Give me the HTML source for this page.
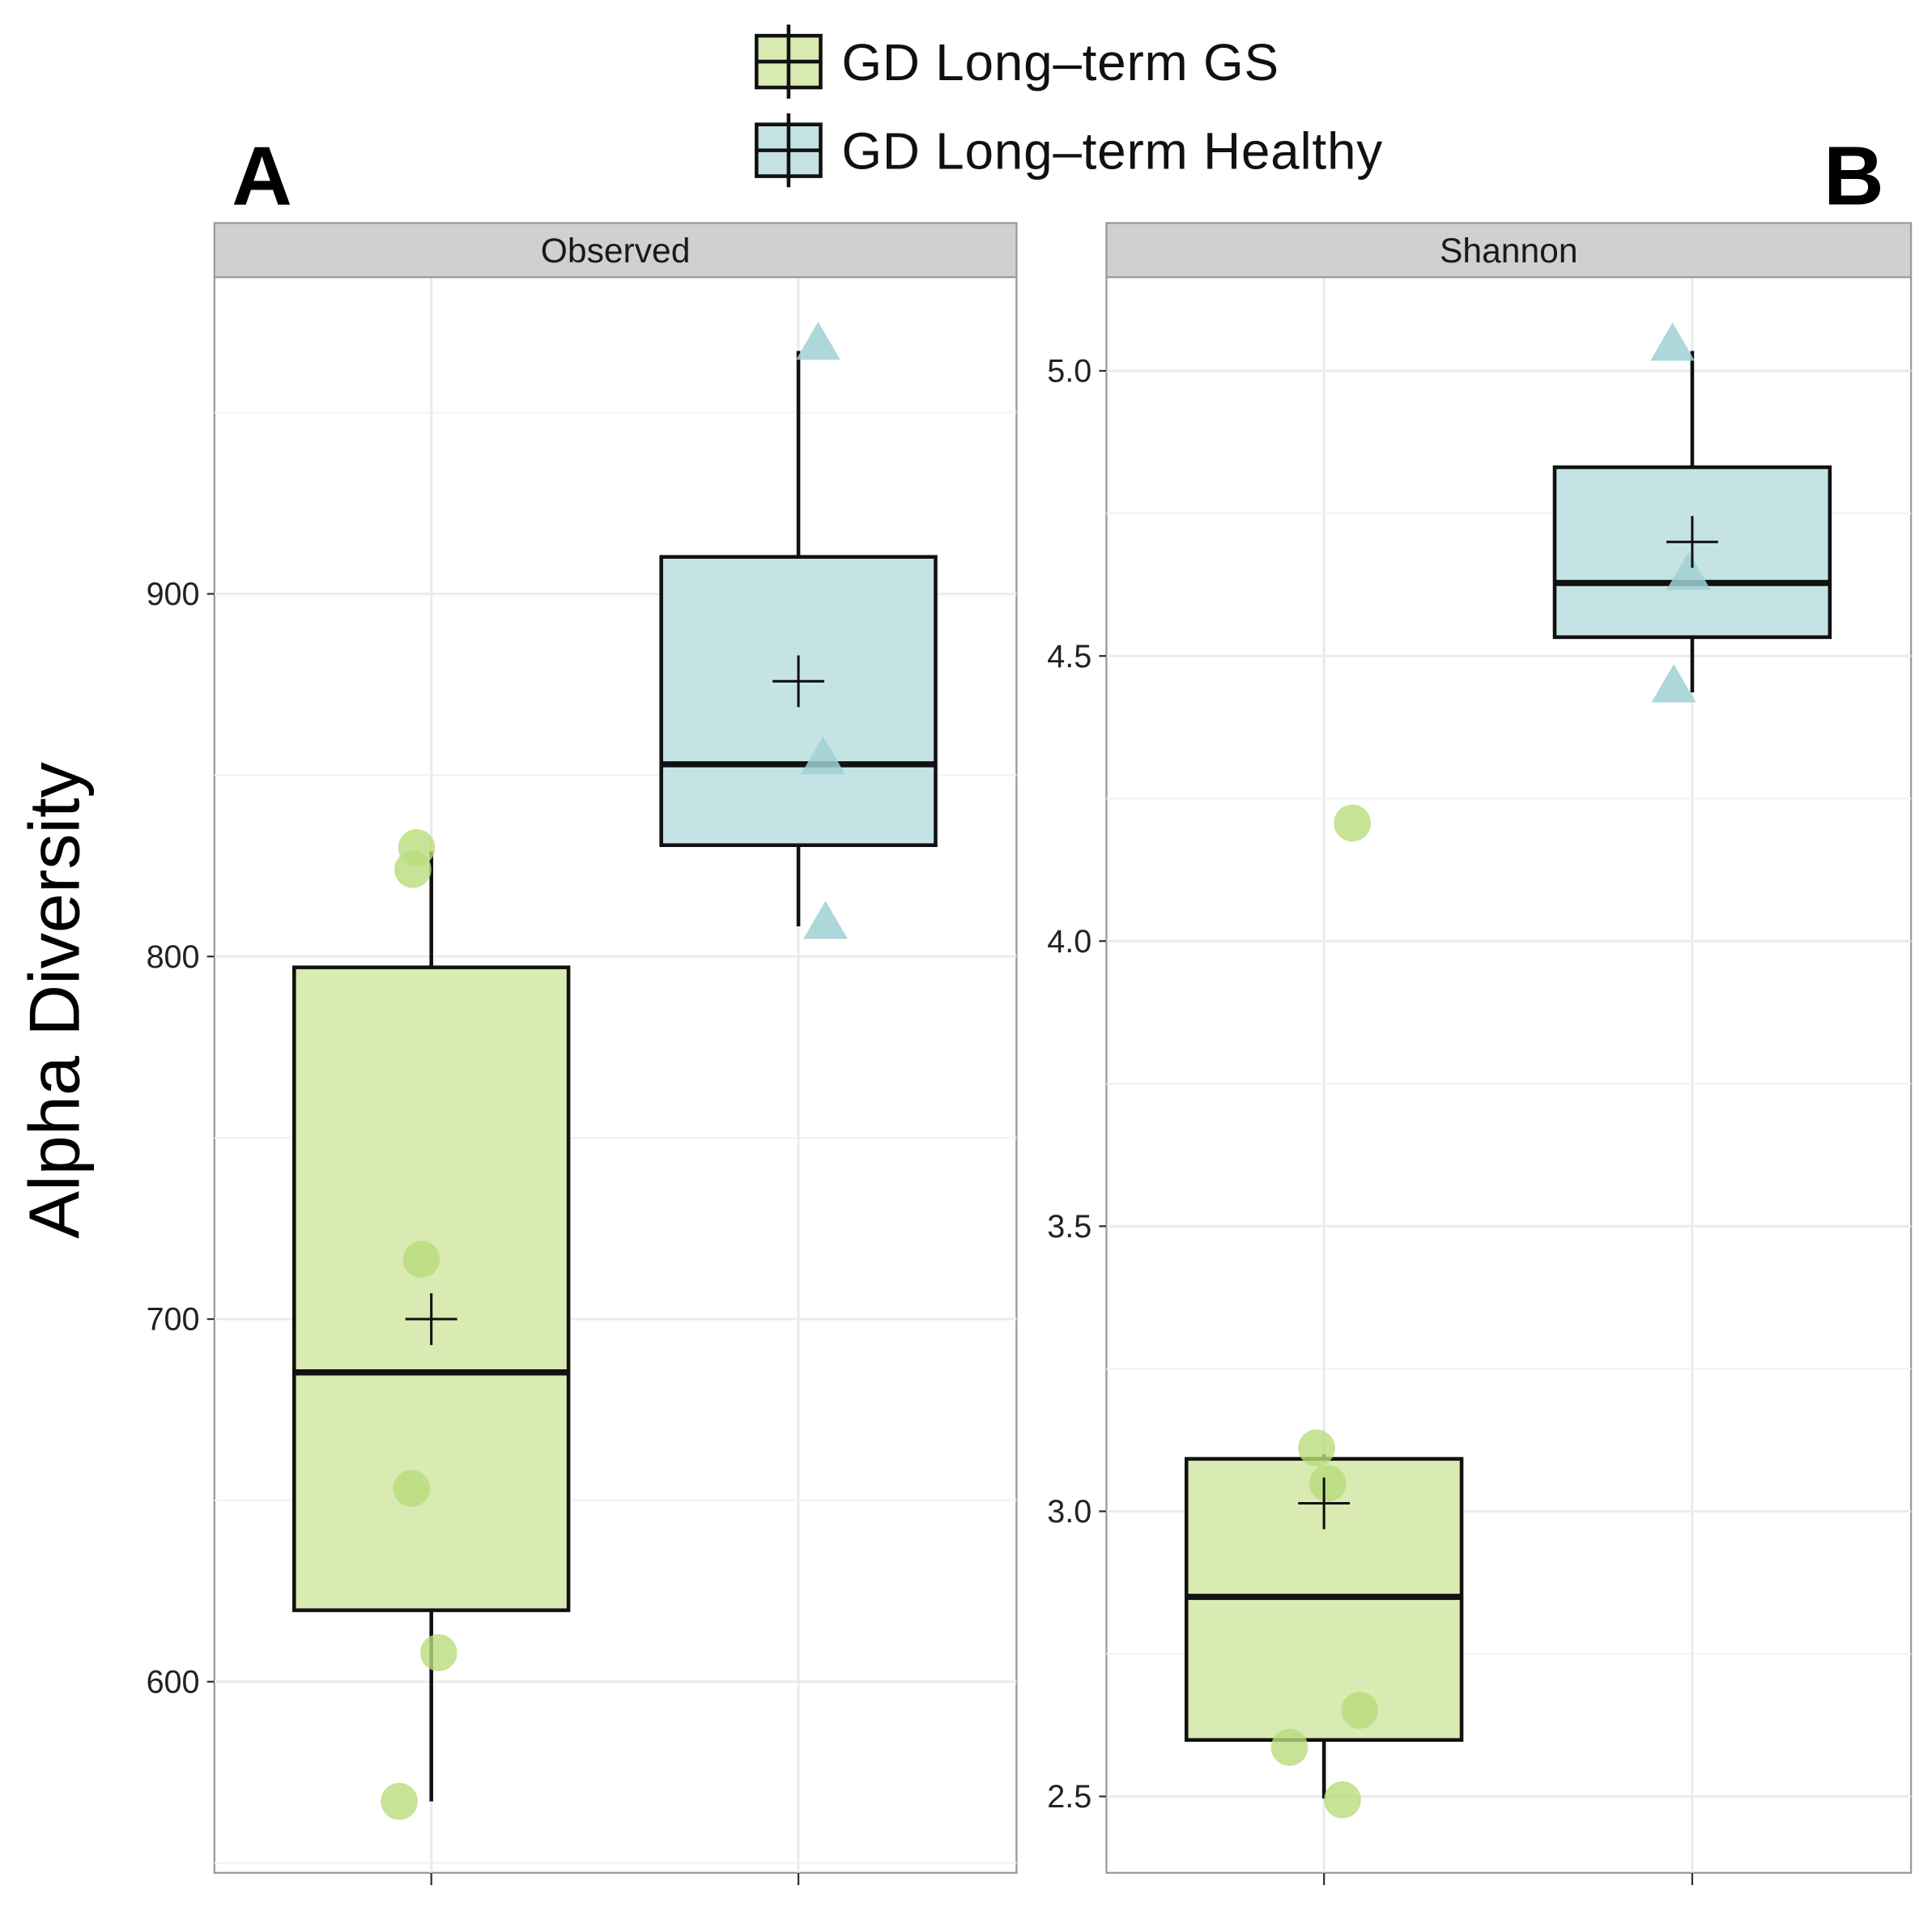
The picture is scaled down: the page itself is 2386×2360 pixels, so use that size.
<!DOCTYPE html>
<html><head><meta charset="utf-8"><style>html,body{margin:0;padding:0;background:#fff}svg{display:block}text{font-family:"Liberation Sans",sans-serif}</style></head>
<body>
<svg id="chart" width="2386" height="2360" viewBox="0 0 1568 1551" xmlns="http://www.w3.org/2000/svg">
<g id="root"></g>
</svg>
<script>
// Panel A (Observed) data
const obsTicks = [600, 700, 800, 900];
const obsGSBox = [567, 619.7, 685.3, 797, 829];       // lowWhisker, q1, median, q3, highWhisker
const obsGSMean = 700;
const obsGSPoints = [830, 824, 716.5, 653.3, 608, 567];
const obsGSJitter = [-12, -15, -8, -16, 6, -26];
const obsHBox = [808.3, 830.7, 853, 910.2, 967];
const obsHMean = 875.9;
const obsHPoints = [969.3, 855, 809.6];
const obsHJitter = [16, 20, 22];
// Panel B (Shannon) data
const shTicks = [2.5, 3.0, 3.5, 4.0, 4.5, 5.0];
const shGSBox = [2.496, 2.599, 2.85, 3.092, 3.1];
const shGSMean = 3.014;
const shGSPoints = [3.111, 3.049, 2.651, 2.586, 2.494, 4.207];
const shGSJitter = [-6, 3, 29, -28, 15, 23];
const shHBox = [4.436, 4.533, 4.628, 4.831, 5.035];
const shHMean = 4.70;
const shHPoints = [5.048, 4.646, 4.449];
const shHJitter = [-16, -3, -15];

const NS = "http://www.w3.org/2000/svg";
const root = document.getElementById('root');
function mk(tag, attrs, parent, txt){
  const e = document.createElementNS(NS, tag);
  for (const k in attrs) e.setAttribute(k, attrs[k]);
  if (txt !== undefined) e.textContent = txt;
  (parent || root).appendChild(e);
  return e;
}
const GREEN = "#d9eab2", GREENPT = "#b8dc7c", BLUE = "#c5e3e4", BLUEPT = "#9fd0d4";
const plotTop = 225, plotBottom = 1520;

function panel(name, x0, x1, label, ticks, yFn, tickFmt, data){
  const g = mk('g', {});
  
  
  const bg = mk('rect', {x:x0, y:plotTop, width:x1-x0, height:plotBottom-plotTop, fill:'#fff', stroke:'#9a9a9a', 'stroke-width':1.5}, g);
  
  
  const step = ticks[1]-ticks[0];
  for (let i=0;i<ticks.length+1;i++){
    const v = ticks[0] - step/2 + i*step;
    const y = yFn(v);
    if (y>plotTop && y<plotBottom){
      const l = mk('line', {x1:x0, x2:x1, y1:y, y2:y, stroke:'#f3f3f3', 'stroke-width':1.5}, g);
      
      
    }
  }
  ticks.forEach(v=>{
    const y = yFn(v);
    const l = mk('line', {x1:x0, x2:x1, y1:y, y2:y, stroke:'#ebebeb', 'stroke-width':2}, g);
    
    
    const t = mk('line', {x1:x0-6, x2:x0, y1:y, y2:y, stroke:'#333', 'stroke-width':1.5}, g);
    
    
    const tl = mk('text', {x:x0-12, y:y+9, 'font-size':26, 'text-anchor':'end', fill:'#222'}, g, tickFmt(v));
    
    
  });
  const cx = [x0 + (x1-x0)*0.2704, x0 + (x1-x0)*0.7281];
  cx.forEach(x=>{
    const l = mk('line', {x1:x, x2:x, y1:plotTop, y2:plotBottom, stroke:'#ebebeb', 'stroke-width':2}, g);
    
    
    const t = mk('line', {x1:x, x2:x, y1:plotBottom, y2:plotBottom+10, stroke:'#333', 'stroke-width':1.5}, g);
    
    
  });
  const s = mk('rect', {x:x0, y:181, width:x1-x0, height:44, fill:'#d0d0d0', stroke:'#9a9a9a', 'stroke-width':1.5}, g);
  
  
  const st = mk('text', {x:(x0+x1)/2, y:213, 'font-size':28, 'text-anchor':'middle', fill:'#1a1a1a'}, g, label);
  
  
  const hw = (x1-x0)*0.171;
  data.forEach((d,i)=>{
    const x = cx[i];
    const b = d.box;
    const w1 = mk('line', {x1:x, x2:x, y1:yFn(b[0]), y2:yFn(b[4]), stroke:'#111', 'stroke-width':3}, g);
    
    
    const r = mk('rect', {x:x-hw, y:yFn(b[3]), width:2*hw, height:yFn(b[1])-yFn(b[3]), fill:d.fill, stroke:'#111', 'stroke-width':3}, g);
    
    
    const m = mk('line', {x1:x-hw, x2:x+hw, y1:yFn(b[2]), y2:yFn(b[2]), stroke:'#111', 'stroke-width':5}, g);
    
    
    d.pts.forEach((v,j)=>{
      const px = x + d.jit[j], py = yFn(v);
      let p;
      if (d.tri) p = mk('polygon', {points:`${px},${py-17} ${px-18},${py+14} ${px+18},${py+14}`, fill:d.pt, 'fill-opacity':0.85}, g);
      else p = mk('circle', {cx:px, cy:py, r:15, fill:d.pt, 'fill-opacity':0.8}, g);
      
      
    });
    const my = yFn(d.mean);
    const mp = mk('path', {d:`M${x-21},${my}H${x+21}M${x},${my-21}V${my+21}`, stroke:'#111', 'stroke-width':2, fill:'none'}, g);
    
    
  });
}
const yA = v => 482 + (900 - v) * 2.943;
const yB = v => 301 + (5.0 - v) * 462.8;
panel('observed', 174, 825, 'Observed', obsTicks, yA, v=>String(v), [
  {key:'observed-gs', box:obsGSBox, mean:obsGSMean, pts:obsGSPoints, jit:obsGSJitter, fill:GREEN, pt:GREENPT, tri:false},
  {key:'observed-healthy', box:obsHBox, mean:obsHMean, pts:obsHPoints, jit:obsHJitter, fill:BLUE, pt:BLUEPT, tri:true}
]);
panel('shannon', 898, 1551, 'Shannon', shTicks, yB, v=>v.toFixed(1), [
  {key:'shannon-gs', box:shGSBox, mean:shGSMean, pts:shGSPoints, jit:shGSJitter, fill:GREEN, pt:GREENPT, tri:false},
  {key:'shannon-healthy', box:shHBox, mean:shHMean, pts:shHPoints, jit:shHJitter, fill:BLUE, pt:BLUEPT, tri:true}
]);
const yt = mk('text', {x:0, y:0, 'font-size':58, 'text-anchor':'middle', fill:'#000', transform:'translate(64,812) rotate(-90)'}, root, 'Alpha Diversity');


const la = mk('text', {x:188, y:166, 'font-size':68, 'font-weight':'bold', fill:'#000'}, root, 'A');


const lb = mk('text', {x:1480, y:166, 'font-size':68, 'font-weight':'bold', fill:'#000'}, root, 'B');


[[GREEN,'GD Long\u2013term GS',50],[BLUE,'GD Long\u2013term Healthy',122]].forEach((L,i)=>{
  const g = mk('g', {});
  
  
  const cy = L[2];
  mk('rect', {x:614, y:cy-21, width:52, height:42, fill:L[0], stroke:'#111', 'stroke-width':3}, g);
  mk('path', {d:`M614,${cy}H666M640,${cy-30}V${cy+30}`, stroke:'#111', 'stroke-width':3}, g);
  mk('text', {x:683, y:cy+15, 'font-size':42, 'letter-spacing':0.5, fill:'#111'}, g, L[1]);
});
</script>
</body></html>
